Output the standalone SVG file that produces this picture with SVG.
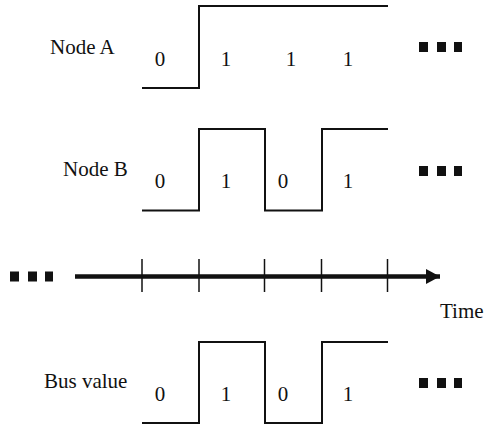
<svg xmlns="http://www.w3.org/2000/svg" width="485" height="428" viewBox="0 0 485 428">
<style>
text{font-family:"Liberation Serif","DejaVu Serif",serif;font-size:21px;fill:#111}
.d{text-anchor:middle}
.w{fill:none;stroke:#111;stroke-width:2}
.t{stroke:#111;stroke-width:1.5}
.sq{fill:#111}
</style>
<defs>
<marker id="ah" markerWidth="14" markerHeight="15" refX="14" refY="7.5" orient="auto" markerUnits="userSpaceOnUse">
<path d="M0,0 L14,7.5 L0,15 Z" fill="#111"/>
</marker>
<g id="dots">
<rect x="0" y="0" width="9" height="10" class="sq"/>
<rect x="18" y="0" width="9" height="10" class="sq"/>
<rect x="35" y="0" width="8" height="10" class="sq"/>
</g>
</defs>
<g id="nodeA">
<text x="50" y="54" font-family="Liberation Serif, serif">Node A</text>
<path class="w" d="M142,88 H199 V6 H388"/>
<text class="d" x="160" y="66">0</text>
<text class="d" x="226" y="66">1</text>
<text class="d" x="291" y="66">1</text>
<text class="d" x="348" y="66">1</text>
<use href="#dots" x="419" y="42"/>
</g>
<g id="nodeB">
<text x="63" y="176">Node B</text>
<path class="w" d="M142,210.5 H199 V129 H265 V210.5 H322 V129 H388"/>
<text class="d" x="160" y="188">0</text>
<text class="d" x="226" y="188">1</text>
<text class="d" x="283" y="188">0</text>
<text class="d" x="348" y="188">1</text>
<use href="#dots" x="419" y="166"/>
</g>
<g id="connectors">
<line x1="75" y1="276.5" x2="440" y2="276.5" stroke="#111" stroke-width="4.5" marker-end="url(#ah)"/>
<line class="t" x1="142" y1="259" x2="142" y2="292"/>
<line class="t" x1="199" y1="259" x2="199" y2="292"/>
<line class="t" x1="264.5" y1="259" x2="264.5" y2="292"/>
<line class="t" x1="321.5" y1="259" x2="321.5" y2="292"/>
<line class="t" x1="387.5" y1="259" x2="387.5" y2="292"/>
<use href="#dots" x="10" y="271.5"/>
</g>
<g id="time">
<text x="440" y="318">Time</text>
</g>
<g id="bus">
<text x="44" y="388">Bus value</text>
<path class="w" d="M142,423 H199 V342 H265 V423 H322 V342 H388"/>
<text class="d" x="160" y="401">0</text>
<text class="d" x="226" y="401">1</text>
<text class="d" x="283" y="401">0</text>
<text class="d" x="348" y="401">1</text>
<use href="#dots" x="419" y="378"/>
</g>
</svg>
